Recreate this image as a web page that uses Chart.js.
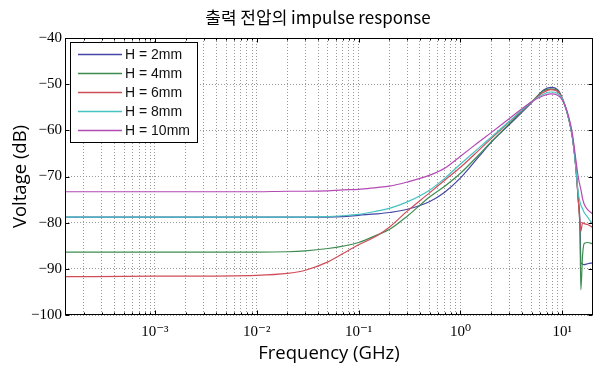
<!DOCTYPE html>
<html>
<head>
<meta charset="utf-8">
<script src="https://cdn.jsdelivr.net/npm/chart.js@4/dist/chart.umd.min.js"></script>
<style>
  html, body { margin: 0; padding: 0; background: #fff; }
  canvas { display: block; }
</style>
</head>
<body>
<canvas id="chart" width="597" height="365"></canvas>
<script>
// frequency points (GHz)
const freq = [1.31e-4, 1e-3, 0.01, 0.02, 0.03, 0.05, 0.07, 0.1, 0.15, 0.2, 0.3, 0.5, 0.7, 1, 1.5, 2, 3, 5,
  6.5, 7.7, 9, 10.1, 11.7, 12.6, 13.6, 14.3, 14.9, 15.2, 15.8, 16.4, 17.7, 20];

// voltage (dB) per plate height
const h2mm = [-78.8, -78.8, -78.8, -78.8, -78.8, -78.8, -78.7, -78.4, -78.1, -77.8, -77.1, -75.4, -73.4, -70.3,
  -65.8, -62.6, -58.8, -54.0, -51.3, -50.7, -51.2, -53.3, -58.0, -61.7, -68.2, -74.7, -80.0, -88.7, -89.0, -89.1, -88.9, -88.7];
const h4mm = [-86.4, -86.4, -86.4, -86.3, -86.1, -85.6, -85.1, -84.3, -82.7, -81.5, -78.6, -74.4, -72.1, -69.3,
  -65.4, -62.5, -58.6, -53.8, -51.5, -51.0, -51.4, -53.3, -58.0, -61.7, -68.2, -74.7, -82.0, -94.5, -87.0, -84.5, -84.3, -84.6];
const h6mm = [-91.7, -91.6, -91.4, -91.0, -90.3, -88.5, -86.7, -84.8, -82.9, -81.0, -77.5, -73.5, -70.8, -68.0,
  -64.4, -61.8, -58.2, -53.8, -51.8, -51.2, -51.6, -53.3, -58.0, -61.7, -68.2, -74.7, -80.0, -81.8, -80.0, -80.2, -80.4, -81.1];
const h8mm = [-78.8, -78.8, -78.8, -78.8, -78.8, -78.7, -78.5, -78.2, -77.5, -76.9, -75.5, -72.9, -70.4, -67.3,
  -63.9, -61.5, -58.1, -53.8, -52.2, -51.7, -52.0, -53.4, -58.0, -61.7, -68.2, -73.5, -75.5, -76.2, -77.0, -77.8, -78.8, -80.4];
const h10mm = [-73.3, -73.3, -73.3, -73.2, -73.2, -73.1, -72.9, -72.8, -72.4, -72.1, -71.2, -69.7, -68.2, -65.6,
  -62.6, -60.5, -57.5, -53.8, -52.5, -52.1, -52.4, -53.6, -57.5, -61.0, -66.5, -70.0, -72.0, -72.8, -74.8, -76.0, -77.2, -78.1];

const seriesNames = ['H = 2mm', 'H = 4mm', 'H = 6mm', 'H = 8mm', 'H = 10mm'];
const seriesValues = [h2mm, h4mm, h6mm, h8mm, h10mm];
const seriesColors = ['#4646a6', '#3c8c50', '#d04c58', '#46c2c2', '#b44ab4'];

const xMajorTicks = [1e-3, 1e-2, 1e-1, 1, 10];
const xTickLabels = ['10\u207B\u00B3', '10\u207B\u00B2', '10\u207B\u00B9', '10\u2070', '10\u00B9'];
const yTicks = [-100, -90, -80, -70, -60, -50, -40];
const chartTitle = '출력 전압의 impulse response';

const xMin = 1.31e-4;
const xMax = 20;

// log grid: 1..9 x each decade inside the range
const xGridValues = [];
for (let e = -4; e <= 1; e++) {
  for (let m = 1; m <= 9; m++) {
    const v = m * Math.pow(10, e);
    if (v > xMin && v < xMax) xGridValues.push(v);
  }
}
const isDecade = v => Math.abs(Math.log10(v) - Math.round(Math.log10(v))) < 1e-9;

const serif = "'Liberation Serif', 'DejaVu Serif', serif";
const sans = "'Open Sans', 'Noto Sans', sans-serif";

// title, inward ticks, box frame and legend drawn inside the axes
const framePlugin = {
  id: 'frame',
  afterDatasetsDraw(chart) {
    const { ctx, chartArea: a, scales } = chart;
    const L = Math.round(a.left) + 0.5, R = Math.round(a.right) - 0.5;
    const T = Math.round(a.top) + 0.5, B = Math.round(a.bottom) - 0.5;
    ctx.save();
    ctx.strokeStyle = '#000';
    ctx.lineWidth = 1;
    ctx.beginPath();
    scales.x.ticks.forEach(t => {
      const px = Math.round(scales.x.getPixelForValue(t.value)) + 0.5;
      const len = isDecade(t.value) ? 4 : 2;
      ctx.moveTo(px, B); ctx.lineTo(px, B - len);
      ctx.moveTo(px, T); ctx.lineTo(px, T + len);
    });
    scales.y.ticks.forEach(t => {
      const py = Math.round(scales.y.getPixelForValue(t.value)) + 0.5;
      ctx.moveTo(L, py); ctx.lineTo(L + 4, py);
      ctx.moveTo(R, py); ctx.lineTo(R - 4, py);
    });
    ctx.stroke();
    ctx.strokeRect(L, T, R - L, B - T);

    // title
    ctx.fillStyle = '#000';
    ctx.font = "17px 'Noto Sans CJK KR', sans-serif";
    ctx.textAlign = 'center';
    ctx.textBaseline = 'middle';
    ctx.fillText(chartTitle, 318, 18);

    // legend
    const lx = 70.5, ly = 42.5, lw = 127, lh = 100;
    ctx.fillStyle = '#fff';
    ctx.fillRect(lx, ly, lw, lh);
    ctx.strokeStyle = '#000';
    ctx.strokeRect(lx, ly, lw, lh);
    ctx.font = "14px 'Liberation Sans', Arial, sans-serif";
    ctx.textBaseline = 'middle';
    ctx.textAlign = 'left';
    chart.data.datasets.forEach((ds, i) => {
      const y = 54.5 + i * 19;
      ctx.strokeStyle = ds.borderColor;
      ctx.lineWidth = 1.3;
      ctx.beginPath();
      ctx.moveTo(78, y); ctx.lineTo(122, y);
      ctx.stroke();
      ctx.fillStyle = '#111';
      ctx.fillText(ds.label, 125, y + 0.5);
    });
    ctx.restore();
  }
};

new Chart(document.getElementById('chart'), {
  type: 'line',
  data: {
    datasets: seriesNames.map((name, i) => ({
      label: name,
      data: freq.map((f, j) => ({ x: f, y: seriesValues[i][j] })),
      borderColor: seriesColors[i],
      backgroundColor: seriesColors[i],
      borderWidth: 1.2,
      pointRadius: 0,
      fill: false,
      cubicInterpolationMode: 'monotone',
      order: seriesNames.length - i,
    })),
  },
  options: {
    responsive: false,
    animation: false,
    devicePixelRatio: 1,
    layout: { padding: { left: 0, right: 4, top: 38, bottom: 0 } },
    plugins: {
      legend: { display: false },
      tooltip: { enabled: false },
      title: { display: false },
    },
    scales: {
      x: {
        type: 'logarithmic',
        min: xMin,
        max: xMax,
        afterBuildTicks: scale => {
          scale.ticks = xGridValues.map(v => ({ value: v }));
        },
        afterFit: scale => { scale.height = 50; },
        grid: { color: '#999', lineWidth: 1, drawTicks: false },
        border: { display: false, dash: [1, 2] },
        ticks: {
          autoSkip: false,
          maxRotation: 0,
          padding: 8,
          color: '#000',
          font: { family: serif, size: 15 },
          callback: value => {
            const k = xMajorTicks.findIndex(m => Math.abs(Math.log10(m) - Math.log10(value)) < 1e-9);
            return k >= 0 ? xTickLabels[k] : '';
          },
        },
        title: {
          display: true,
          text: 'Frequency (GHz)',
          color: '#000',
          font: { family: sans, size: 18.5 },
          padding: { top: 0, bottom: 0 },
        },
      },
      y: {
        min: -100,
        max: -40,
        afterBuildTicks: scale => {
          scale.ticks = yTicks.map(v => ({ value: v }));
        },
        afterFit: scale => { scale.width = 65; },
        grid: { color: '#999', lineWidth: 1, drawTicks: false },
        border: { display: false, dash: [1, 2] },
        ticks: {
          padding: 3,
          color: '#000',
          font: { family: serif, size: 15 },
          callback: v => (v < 0 ? '\u2212' : '') + Math.abs(v),
        },
        title: {
          display: true,
          text: 'Voltage (dB)',
          color: '#000',
          font: { family: sans, size: 18.5 },
          padding: { top: 10, bottom: 0 },
        },
      },
    },
  },
  plugins: [framePlugin],
});
</script>
</body>
</html>
